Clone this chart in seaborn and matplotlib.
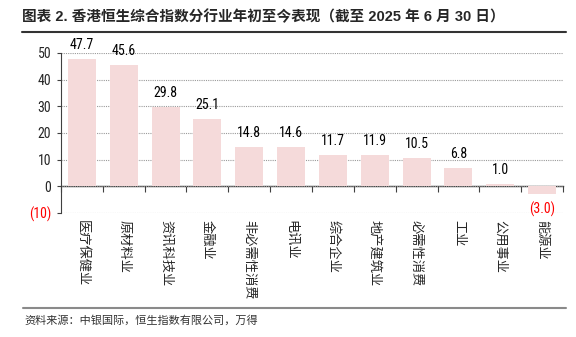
import matplotlib
matplotlib.use('Agg')
import matplotlib.pyplot as plt
import seaborn as sns
import pandas as pd
import numpy as np
from matplotlib.lines import Line2D

categories = ['医疗保健业', '原材料业', '资讯科技业', '金融业', '非必需性消费', '电讯业',
              '综合企业', '地产建筑业', '必需性消费', '工业', '公用事业', '能源业']
values = [47.7, 45.6, 29.8, 25.1, 14.8, 14.6, 11.7, 11.9, 10.5, 6.8, 1.0, -3.0]
yticks = [-10, 0, 10, 20, 30, 40, 50]
ytick_labels = ['(10)', '0', '10', '20', '30', '40', '50']
title = '图表 2. 香港恒生综合指数分行业年初至今表现（截至 2025 年 6 月 30 日）'
source = '资料来源：中银国际，恒生指数有限公司，万得'

sns.set_theme(style='white')
NUM = ['Roboto Condensed', 'Liberation Sans', 'DejaVu Sans']
CJK = ['Noto Sans CJK SC', 'DejaVu Sans']
plt.rcParams['font.family'] = NUM + ['Noto Sans CJK SC']

fig = plt.figure(figsize=(5.76, 3.37), dpi=100)
ax = fig.add_axes([61/576, 1-213/337, (563-61)/576, (213-53)/337])

df = pd.DataFrame({'cat': categories, 'val': values})
sns.barplot(data=df, x='cat', y='val', color='#F5DADA', saturation=1,
            width=0.67, linewidth=0, ax=ax)

ax.set_ylim(-10, 50)
ax.set_xlim(-0.5, len(categories)-0.5)
ax.set_yticks(yticks)
ax.set_yticklabels(ytick_labels, fontsize=10, family=NUM)
ax.set_xticks(range(len(categories)))
ax.set_xticklabels(categories, rotation=270, fontsize=9.5, family=CJK,
                   va='top', ha='center')
ax.set_xlabel('')
ax.set_ylabel('')

ax.yaxis.grid(True, color='#9a9a9a', linestyle=(0, (1, 1)), linewidth=0.8)
ax.xaxis.grid(False)
for s in ['top', 'right', 'bottom']:
    ax.spines[s].set_visible(False)
ax.spines['left'].set_color('#404040')
ax.spines['left'].set_linewidth(0.8)

ax.tick_params(axis='y', length=3, width=0.8, direction='out', color='#404040',
               pad=4, left=True)
ax.get_yticklabels()[0].set_color('red')
ax.tick_params(axis='x', length=0, pad=5)

# zero axis with boundary ticks
sec = ax.secondary_xaxis(0, transform=ax.transData)
sec.set_xticks(np.arange(-0.5, len(categories), 1))
sec.set_xticklabels([])
sec.tick_params(axis='x', length=4, width=0.8, direction='out', color='#404040')
sec.spines['bottom'].set_color('#404040')
sec.spines['bottom'].set_linewidth(1.0)

# value labels
cont = ax.containers[0]
labels = [f'{v:.1f}' if v >= 0 else f'({abs(v):.1f})' for v in values]
texts = ax.bar_label(cont, labels=labels, padding=5, fontsize=10)
for t, v in zip(texts, values):
    t.set_family(NUM)
    t.set_color('red' if v < 0 else 'black')

# title, rules, source
fig.text(22/576, 1-17/337, title, fontsize=10.5, weight='bold', va='center',
         family=['Liberation Sans', 'Noto Sans CJK SC'])
fig.add_artist(Line2D([22/576, 566/576], [1-32/337]*2, transform=fig.transFigure,
                      color='#333333', lw=1.5))
fig.add_artist(Line2D([23/576, 566/576], [1-308/337]*2, transform=fig.transFigure,
                      color='#8a8a8a', lw=1.5))
fig.text(24/576, 1-320/337, source, fontsize=8, va='center', color='#333333',
         style='italic', family=CJK)

fig.savefig('out.png', dpi=100)
